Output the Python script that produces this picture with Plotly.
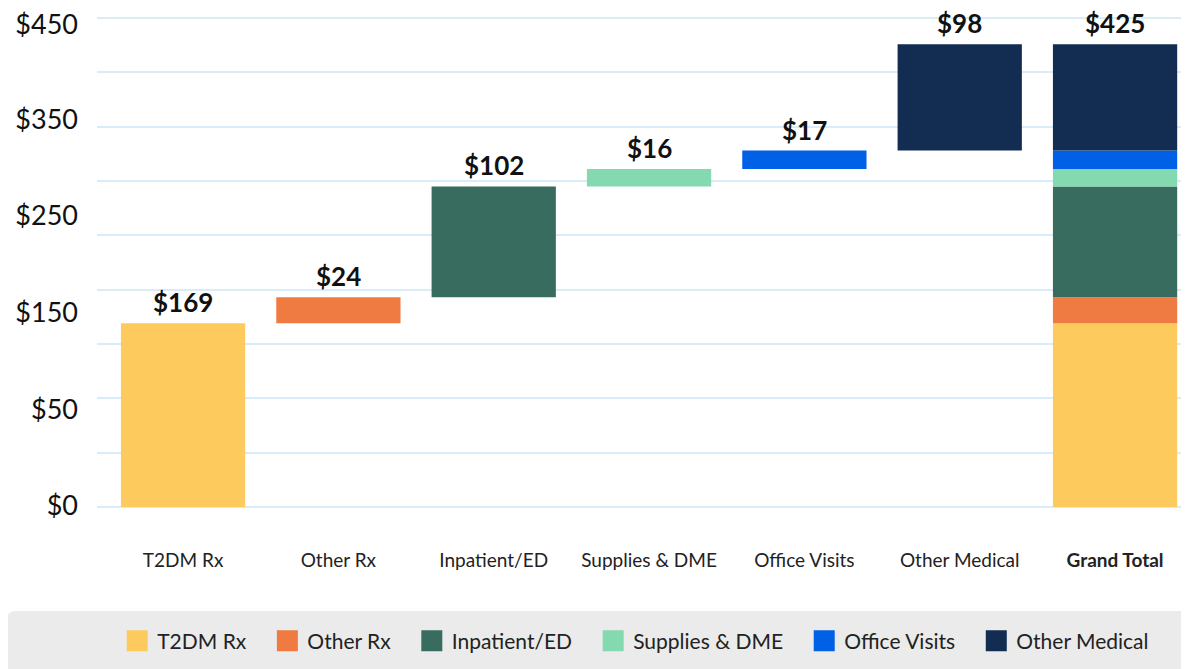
import numpy as np
import plotly.graph_objects as go

categories = ["T2DM Rx", "Other Rx", "Inpatient/ED", "Supplies & DME", "Office Visits", "Other Medical"]
total_label = "Grand Total"
values = [169, 24, 102, 16, 17, 98]
value_labels = ["$169", "$24", "$102", "$16", "$17", "$98"]
total_text = "$425"
colors = ["#FDCA5E", "#EF7B42", "#386C5F", "#84D9B0", "#0061E6", "#122D51"]
ytick_vals = [1, 90, 179, 268, 357, 444]
ytick_text = ["$0", "$50", "$150", "$250", "$350", "$450"]
x_ticktext = categories + ["<b>Grand Total</b>"]

FONT = "Lato"
starts = np.concatenate([[0], np.cumsum(values)[:-1]])
tops = np.cumsum(values)

fig = go.Figure()
for cat, v, s, c in zip(categories, values, starts, colors):
    fig.add_trace(go.Bar(
        x=[cat, total_label], y=[v, v], base=[s, s],
        marker=dict(color=c, line=dict(width=0)),
        width=0.8, showlegend=False, legendgroup=cat, hoverinfo="skip",
    ))
for cat, c in zip(categories, colors):
    fig.add_trace(go.Scatter(
        x=[None], y=[None], mode="markers", name=cat + "\u00a0\u00a0\u00a0",
        marker=dict(symbol="square", size=16, color=c, line=dict(color=c, width=5)),
        legendgroup=cat, showlegend=True,
    ))
# invisible trace so the label axis is drawn
fig.add_trace(go.Scatter(x=[categories[0]], y=[0], yaxis="y2", mode="markers",
                         marker=dict(opacity=0), showlegend=False, hoverinfo="skip"))

for cat, t, lab in zip(categories, tops, value_labels):
    fig.add_annotation(x=cat, y=t, text=f"<b>{lab}</b>", showarrow=False,
                       yanchor="bottom", yshift=3,
                       font=dict(family=FONT, size=26, color="#111111"))
fig.add_annotation(x=total_label, y=tops[-1], text=f"<b>{total_text}</b>", showarrow=False,
                   yanchor="bottom", yshift=3,
                   font=dict(family=FONT, size=26, color="#111111"))

# legend background panel
fig.add_shape(type="path", xref="paper", yref="paper", xsizemode="pixel", ysizemode="pixel",
              xanchor=0, yanchor=0,
              path="M -81,-103 L 1110,-103 L 1110,-170 L -90,-170 L -90,-112 Q -90,-103 -81,-103 Z",
              fillcolor="#EBEBEB", line=dict(width=0), layer="below")

fig.update_layout(
    width=1181, height=661,
    margin=dict(l=89, r=0, t=9, b=161, autoexpand=False),
    paper_bgcolor="white", plot_bgcolor="white",
    barmode="overlay",
    font=dict(family=FONT, color="#222222"),
    xaxis=dict(
        type="category", categoryorder="array", categoryarray=categories + [total_label],
        tickvals=categories + [total_label], ticktext=x_ticktext, automargin=False,
        range=[-0.554, 6.476], showgrid=False, zeroline=False, showline=False,
        ticks="", ticklabelstandoff=39, tickfont=dict(family=FONT, size=19, color="#222222"),
    ),
    yaxis=dict(
        range=[-1, 451], dtick=50, tick0=0, showgrid=True, gridcolor="#D9ECFA", gridwidth=2,
        zeroline=False, showline=False, showticklabels=False, ticks="", automargin=False,
    ),
    yaxis2=dict(
        overlaying="y", side="left", range=[-1, 451], tickvals=ytick_vals, ticktext=ytick_text,
        showgrid=False, zeroline=False, showline=False, ticks="", ticklabelstandoff=18,
        ticklabeloverflow="allow", automargin=False,
        tickfont=dict(family=FONT, size=27, color="#111111"),
    ),
    legend=dict(
        orientation="h", x=0.0185, xanchor="left", y=-0.2709, yanchor="middle",
        bgcolor="rgba(0,0,0,0)", itemsizing="trace",
        font=dict(family=FONT, size=21, color="#222222"), traceorder="normal",
    ),
)

fig.write_html("out.html")
